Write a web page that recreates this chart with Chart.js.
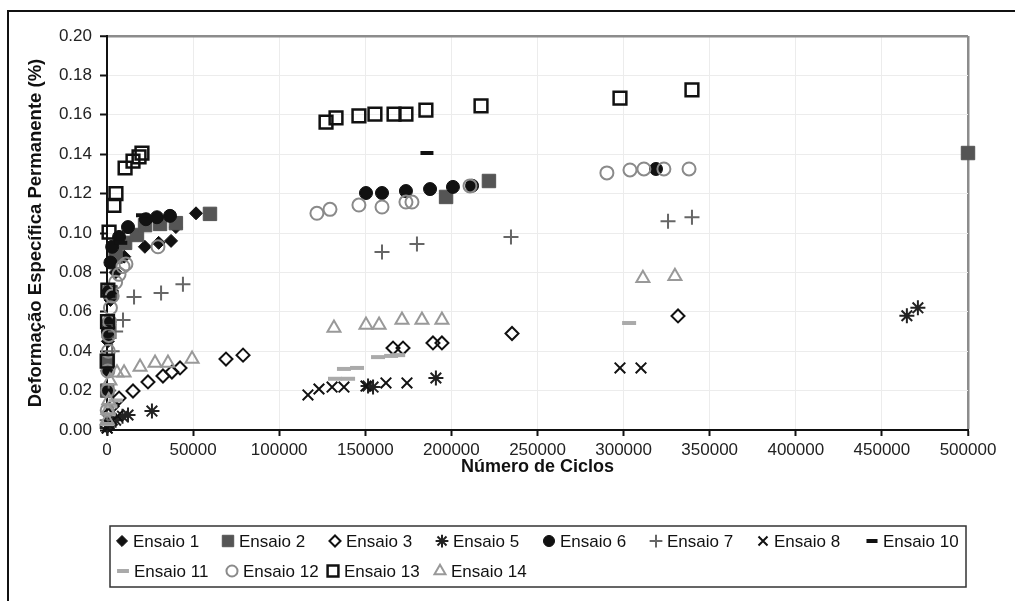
<!DOCTYPE html>
<html>
<head>
<meta charset="utf-8">
<script src="https://cdn.jsdelivr.net/npm/chart.js@4/dist/chart.umd.min.js"></script>
<style>
  html, body { margin: 0; padding: 0; background: #fff; }
  #wrap { width: 1015px; height: 601px; }
</style>
</head>
<body>
<div id="wrap"><canvas id="chart" width="1015" height="601"></canvas></div>
<script>
// values: [cycles, strain %]
const seriesNames = ['Ensaio 1', 'Ensaio 2', 'Ensaio 3', 'Ensaio 5', 'Ensaio 6', 'Ensaio 7', 'Ensaio 8',
    'Ensaio 10', 'Ensaio 11', 'Ensaio 12', 'Ensaio 13', 'Ensaio 14'];
const xTickLabels = ['0', '50000', '100000', '150000', '200000', '250000', '300000', '350000', '400000', '450000', '500000'];
const yTickLabels = ['0.00', '0.02', '0.04', '0.06', '0.08', '0.10', '0.12', '0.14', '0.16', '0.18', '0.20'];

const ensaio1 = [[100, 0.03], [500, 0.045], [1000, 0.055], [2000, 0.066], [5000, 0.08], [10000, 0.088],
    [22000, 0.093], [30000, 0.095], [37200, 0.096], [40000, 0.103], [51700, 0.110]];
const ensaio2 = [[100, 0.02], [500, 0.035], [1000, 0.05], [2000, 0.07], [5000, 0.088], [10500, 0.095],
    [17400, 0.099], [22100, 0.104], [30800, 0.1046], [40000, 0.105], [59800, 0.1097],
    [196900, 0.1183], [221800, 0.1264], [500000, 0.1406]];
const ensaio3 = [[100, 0.002], [1000, 0.008], [3000, 0.012], [7000, 0.0162], [15100, 0.0198], [23800, 0.0244],
    [32500, 0.0274], [37700, 0.0294], [42400, 0.0315], [69100, 0.036], [79000, 0.038], [166100, 0.0416],
    [171900, 0.0416], [189300, 0.0442], [194500, 0.0442], [235200, 0.049], [331600, 0.0579]];
const ensaio5 = [[100, 0.001], [1000, 0.003], [5000, 0.005], [9000, 0.007], [12200, 0.0076], [26100, 0.0096],
    [151600, 0.0223], [154500, 0.0218], [191000, 0.0264], [464500, 0.058], [470900, 0.062]];
const ensaio6 = [[100, 0.02], [500, 0.05], [1000, 0.07], [2000, 0.085], [3000, 0.093], [7000, 0.098],
    [12200, 0.103], [22600, 0.107], [29000, 0.108], [36600, 0.1087], [150400, 0.1203], [159700, 0.1203],
    [173600, 0.1213], [187600, 0.1223], [200900, 0.1234], [212000, 0.124], [318800, 0.1325]];
const ensaio7 = [[100, 0.005], [1000, 0.02], [3000, 0.04], [5000, 0.05], [9300, 0.0558], [15700, 0.0675],
    [31400, 0.0695], [44100, 0.074], [159700, 0.0904], [180000, 0.0944], [234600, 0.098],
    [325800, 0.106], [339700, 0.108]];
const ensaio8 = [[100, 0.001], [1000, 0.003], [3000, 0.005], [6000, 0.007], [116700, 0.0178], [123100, 0.0208],
    [130700, 0.0218], [137600, 0.0218], [150400, 0.0223], [162000, 0.0239], [174200, 0.0239],
    [297900, 0.0315], [310100, 0.0315]];
const ensaio10 = [[100, 0.02], [1000, 0.055], [3000, 0.07], [8000, 0.095], [20600, 0.109], [185800, 0.1406]];
const ensaio11 = [[100, 0.003], [1000, 0.008], [2000, 0.012], [5000, 0.015], [132400, 0.026], [140000, 0.026],
    [137600, 0.031], [145200, 0.0315], [157400, 0.037], [165000, 0.0376], [169100, 0.038], [303200, 0.0543]];
const ensaio12 = [[100, 0.01], [300, 0.02], [500, 0.03], [800, 0.04], [1000, 0.048], [1500, 0.055],
    [2000, 0.062], [3000, 0.068], [5000, 0.075], [7000, 0.079], [9300, 0.083], [11000, 0.0843],
    [29600, 0.093], [121900, 0.110], [129500, 0.112], [146300, 0.1142], [159700, 0.1132], [173600, 0.1157],
    [177100, 0.1157], [210800, 0.1239], [290300, 0.1305], [303700, 0.132], [311800, 0.1325],
    [323400, 0.1325], [338000, 0.1325]];
const ensaio13 = [[100, 0.035], [300, 0.055], [500, 0.071], [1200, 0.1005], [4000, 0.114], [5200, 0.120],
    [10500, 0.133], [15100, 0.1365], [18600, 0.1386], [20300, 0.1406], [127200, 0.1563], [133000, 0.1584],
    [146300, 0.1594], [155600, 0.1604], [166700, 0.1604], [173600, 0.1604], [185200, 0.1624],
    [217200, 0.1645], [297900, 0.1685], [339700, 0.1726]];
const ensaio14 = [[100, 0.005], [500, 0.01], [1000, 0.015], [1700, 0.025], [5800, 0.029], [9900, 0.029],
    [19200, 0.032], [27900, 0.034], [35400, 0.034], [49400, 0.036], [131800, 0.0518], [150400, 0.0533],
    [158000, 0.0533], [171300, 0.0558], [182900, 0.0558], [194500, 0.0558], [311200, 0.077], [329800, 0.078]];

const allSeries = [ensaio1, ensaio2, ensaio3, ensaio5, ensaio6, ensaio7, ensaio8,
    ensaio10, ensaio11, ensaio12, ensaio13, ensaio14];

// marker look for each series, same order as seriesNames
const markers = [
    { style: 'rectRot', r: 6.5, fill: '#111', line: '#111', w: 1 },
    { style: 'rect', r: 9.5, fill: '#555', line: '#555', w: 1 },
    { style: 'rectRot', r: 6.5, fill: 'rgba(0,0,0,0)', line: '#111', w: 2 },
    { style: 'star', r: 7.5, fill: 'rgba(0,0,0,0)', line: '#222', w: 2 },
    { style: 'circle', r: 6.5, fill: '#111', line: '#111', w: 1 },
    { style: 'cross', r: 7.5, fill: 'rgba(0,0,0,0)', line: '#666', w: 2 },
    { style: 'crossRot', r: 7.5, fill: 'rgba(0,0,0,0)', line: '#111', w: 2 },
    { style: 'line', r: 6.5, fill: '#111', line: '#111', w: 4 },
    { style: 'line', r: 7, fill: '#aaa', line: '#aaa', w: 4 },
    { style: 'circle', r: 6.5, fill: 'rgba(0,0,0,0)', line: '#8a8a8a', w: 2 },
    { style: 'rect', r: 9, fill: 'rgba(0,0,0,0)', line: '#111', w: 2.5 },
    { style: 'triangle', r: 7.5, fill: 'rgba(0,0,0,0)', line: '#999', w: 2 }
];

const FONT = '"Liberation Sans", Arial, sans-serif';

const datasets = allSeries.map((pts, i) => ({
    label: seriesNames[i],
    data: pts.map(([x, y]) => ({ x, y })),
    showLine: false,
    clip: false,
    order: -i,
    pointStyle: markers[i].style,
    pointRadius: markers[i].r,
    pointHoverRadius: markers[i].r,
    pointBackgroundColor: markers[i].fill,
    pointBorderColor: markers[i].line,
    pointBorderWidth: markers[i].w
}));

// frame round the picture and the Excel style legend box
const frameLegend = {
    id: 'frameLegend',
    afterDraw(chart) {
        const ctx = chart.ctx;
        ctx.save();
        ctx.strokeStyle = '#111';
        ctx.lineWidth = 2;
        ctx.beginPath();
        ctx.moveTo(8, 601);
        ctx.lineTo(8, 11);
        ctx.lineTo(1015, 11);
        ctx.stroke();

        ctx.strokeStyle = '#333';
        ctx.lineWidth = 1.5;
        ctx.strokeRect(110, 526, 856, 61);

        const row1 = [122, 228, 335, 442, 549, 656, 763, 872];
        const row2 = [123, 232, 333, 440];
        ctx.font = '17px ' + FONT;
        ctx.textBaseline = 'middle';
        seriesNames.forEach((name, i) => {
            const m = markers[i];
            const x = i < 8 ? row1[i] : row2[i - 8];
            const y = i < 8 ? 541 : 571;
            ctx.fillStyle = m.fill;
            ctx.strokeStyle = m.line;
            ctx.lineWidth = m.w;
            Chart.helpers.drawPoint(ctx, { pointStyle: m.style, radius: m.r * 0.85, borderWidth: m.w, rotation: 0 }, x, y);
            ctx.fillStyle = '#111';
            ctx.fillText(name, x + 11, y + 1);
        });
        ctx.restore();
    }
};

new Chart(document.getElementById('chart'), {
    type: 'scatter',
    data: { datasets },
    plugins: [frameLegend],
    options: {
        responsive: false,
        animation: false,
        layout: { padding: { top: 36, right: 47, bottom: 121, left: 0 } },
        plugins: { legend: { display: false }, tooltip: { enabled: false } },
        scales: {
            x: {
                type: 'linear',
                min: 0,
                max: 500000,
                afterFit: s => { s.height = 50; },
                ticks: {
                    stepSize: 50000,
                    maxRotation: 0,
                    autoSkip: false,
                    padding: 4,
                    color: '#222',
                    font: { family: FONT, size: 17 },
                    callback: (v, i) => xTickLabels[i]
                },
                grid: {
                    color: c => c.index === 10 ? '#8c8c8c' : '#ececec',
                    lineWidth: c => c.index === 10 ? 2.5 : 1,
                    tickColor: '#111',
                    tickLength: 6,
                    tickWidth: 2
                },
                border: { color: '#111', width: 2 },
                title: {
                    display: true,
                    text: 'Número de Ciclos',
                    color: '#111',
                    font: { family: FONT, size: 18, weight: 'bold' },
                    padding: { top: 0, bottom: 2 }
                }
            },
            y: {
                min: 0,
                max: 0.2,
                afterFit: s => { s.width = 107; },
                ticks: {
                    stepSize: 0.02,
                    padding: 8,
                    color: '#222',
                    font: { family: FONT, size: 17 },
                    callback: (v, i) => yTickLabels[i]
                },
                grid: {
                    color: c => c.index === 10 ? '#8c8c8c' : '#ececec',
                    lineWidth: c => c.index === 10 ? 2.5 : 1,
                    tickColor: '#111',
                    tickLength: 7,
                    tickWidth: 2
                },
                border: { color: '#111', width: 2 },
                title: {
                    display: true,
                    text: 'Deformação Específica Permanente (%)',
                    color: '#111',
                    font: { family: FONT, size: 18.5, weight: 'bold' },
                    padding: { top: 25, bottom: 0 }
                }
            }
        }
    }
});
</script>
</body>
</html>
